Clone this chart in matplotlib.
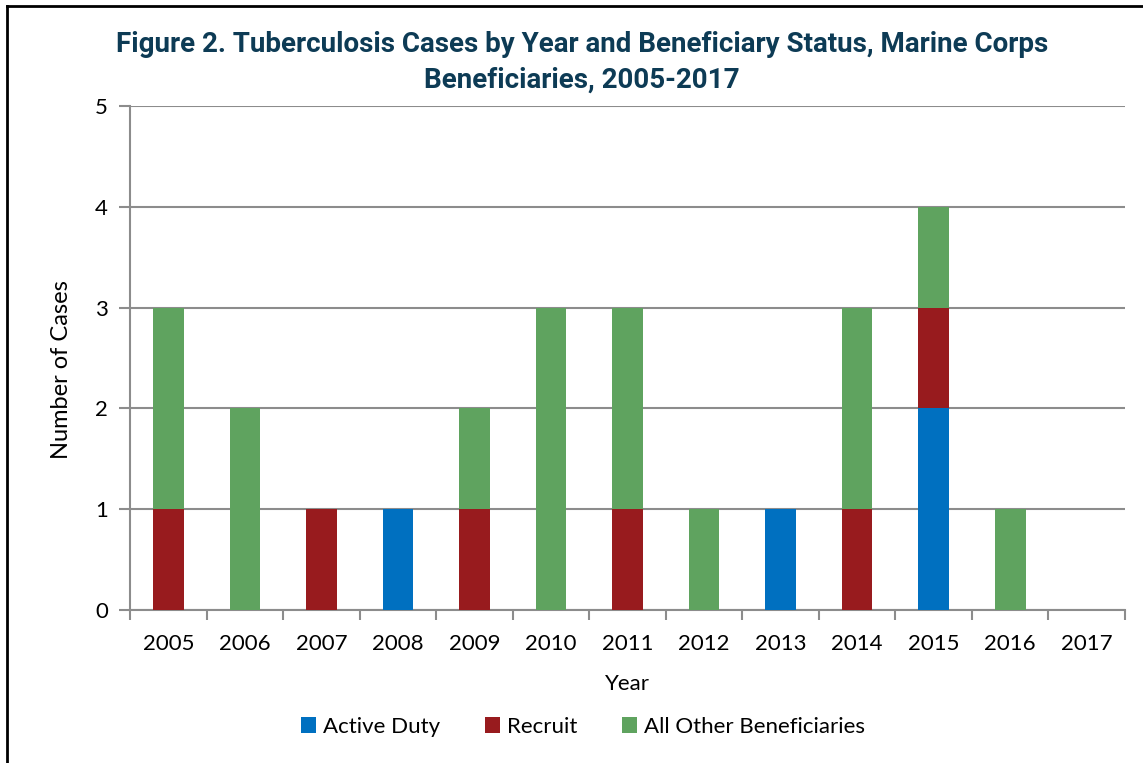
import matplotlib
matplotlib.use("Agg")
import matplotlib.pyplot as plt
from matplotlib.lines import Line2D
from matplotlib.patches import Patch
import numpy as np

years = ["2005", "2006", "2007", "2008", "2009", "2010", "2011", "2012", "2013", "2014", "2015", "2016", "2017"]
active_duty = [0, 0, 0, 1, 0, 0, 0, 0, 1, 0, 2, 0, 0]
recruit = [1, 0, 1, 0, 1, 0, 1, 0, 0, 1, 1, 0, 0]
all_other = [2, 2, 0, 0, 1, 3, 2, 1, 0, 2, 1, 1, 0]
series_names = ["Active Duty", "Recruit", "All Other Beneficiaries"]
colors = ["#0070C0", "#981B1E", "#5FA35F"]

title_font = ["Roboto", "Liberation Sans", "DejaVu Sans"]
body_font = ["Lato", "DejaVu Sans"]

fig = plt.figure(figsize=(11.43, 7.63), dpi=100)
ax = fig.add_axes([130 / 1143, 153 / 763, 995 / 1143, 504 / 763])

x = np.arange(len(years))
bottom = np.zeros(len(years))
for vals, c in zip([active_duty, recruit, all_other], colors):
    v = np.array(vals, dtype=float)
    ax.bar(x, v, bottom=bottom, width=0.4, color=c, zorder=3)
    bottom += v

ax.set_xlim(-0.5, len(years) - 0.5)
ax.set_ylim(0, 5)
ax.set_yticks(range(0, 6))
ax.yaxis.grid(True, color="#8C8C8C", linewidth=1.5, zorder=0)
ax.set_xticks(x)
ax.set_xticklabels(years, fontsize=16, family=body_font)
ax.set_xticks(np.arange(-0.5, len(years)), minor=True)
ax.tick_params(axis="x", which="major", length=0, pad=17)
ax.tick_params(axis="x", which="minor", length=7, width=1.5, color="#8C8C8C", direction="out")
ax.tick_params(axis="y", length=8, width=1.5, color="#8C8C8C", pad=8)
for lab in ax.get_yticklabels():
    lab.set_fontsize(16)
    lab.set_family(body_font)
for s in ["top", "right"]:
    ax.spines[s].set_visible(False)
for s in ["left", "bottom"]:
    ax.spines[s].set_color("#8C8C8C")
    ax.spines[s].set_linewidth(1.5)

ax.set_xlabel("Year", fontsize=16, family=body_font, labelpad=15)
ax.set_ylabel("Number of Cases", fontsize=17, family=body_font)
ax.yaxis.set_label_coords(-0.058, 0.478)

fig.text(0.509, 1 - 45 / 763, "Figure 2. Tuberculosis Cases by Year and Beneficiary Status, Marine Corps",
         ha="center", va="center", fontsize=20, fontweight="bold", color="#0D3B55", family=title_font)
fig.text(0.509, 1 - 80 / 763, "Beneficiaries, 2005-2017",
         ha="center", va="center", fontsize=20, fontweight="bold", color="#0D3B55", family=title_font)

handles = [Patch(facecolor=c, edgecolor="none") for c in colors]
fig.legend(handles, series_names, loc="center", bbox_to_anchor=(0.51, 1 - 727 / 763), ncol=3,
           frameon=False, prop={"family": body_font, "size": 16}, handlelength=0.7, handleheight=0.7,
           handletextpad=0.3, columnspacing=2.0)

# border
bx0, by1 = 7 / 1143, 1 - 6 / 763
fig.add_artist(Line2D([bx0, bx0], [-0.01, by1], transform=fig.transFigure, color="black", linewidth=2))
fig.add_artist(Line2D([bx0, 1.01], [by1, by1], transform=fig.transFigure, color="black", linewidth=2))

fig.savefig("out.png", dpi=100)
